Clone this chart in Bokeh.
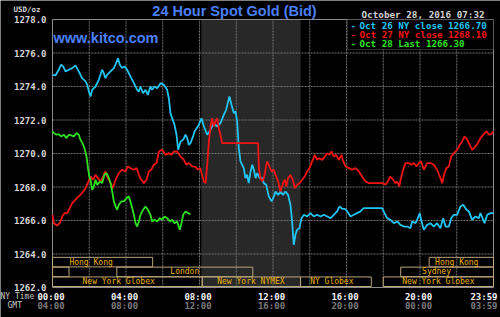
from bokeh.plotting import figure
from bokeh.models import Range1d, Label, BoxAnnotation, ColumnDataSource
from bokeh.core.properties import value
from bokeh.embed import file_html
from bokeh.resources import INLINE

# ---------------- data ----------------
cyan_hours = [0.00, 0.16, 0.34, 0.47, 0.58, 0.71, 0.89, 1.07, 1.25, 1.43, 1.61, 1.80, 1.89, 1.98, 2.07, 2.16,
              2.34, 2.52, 2.61, 2.70, 2.79, 2.88, 2.97, 3.16, 3.34, 3.46, 3.57, 3.66, 3.79, 3.92, 4.06, 4.24,
              4.43, 4.61, 4.70, 4.79, 4.93, 5.06, 5.19, 5.33, 5.42, 5.55, 5.70, 5.88, 6.06, 6.24, 6.33, 6.42,
              6.51, 6.64, 6.75, 6.84, 6.97, 7.11, 7.24, 7.33, 7.42, 7.51, 7.65, 7.73, 7.96, 8.11, 8.24, 8.42,
              8.60, 8.78, 8.96, 9.14, 9.32, 9.45, 9.56, 9.63, 9.74, 9.87, 9.96, 10.05, 10.14, 10.23, 10.41,
              10.50, 10.59, 10.68, 10.78, 10.87, 10.96, 11.05, 11.14, 11.27, 11.41, 11.50, 11.63, 11.77, 11.92,
              12.05, 12.14, 12.28, 12.41, 12.54, 12.68, 12.82, 12.95, 13.04, 13.13, 13.22, 13.31, 13.44, 13.55,
              13.68, 13.86, 14.04, 14.22, 14.40, 14.59, 14.77, 14.95, 15.13, 15.31, 15.49, 15.62, 15.76, 15.91,
              16.04, 16.22, 16.40, 16.58, 16.76, 16.94, 17.12, 17.31, 17.49, 17.67, 17.94, 18.07, 18.21, 18.39,
              18.58, 18.76, 18.94, 19.12, 19.30, 19.48, 19.57, 19.76, 19.88, 19.99, 20.06, 20.21, 20.39, 20.57,
              20.75, 20.93, 21.11, 21.26, 21.39, 21.57, 21.70, 21.84, 22.02, 22.20, 22.35, 22.53, 22.66, 22.84,
              23.02, 23.20, 23.29, 23.44, 23.51, 23.66, 23.84, 24.00]
cyan_values = [1274.70, 1274.66, 1275.00, 1275.30, 1275.20, 1274.90, 1275.00, 1275.10, 1275.26, 1274.90, 1274.50,
               1274.30, 1274.10, 1273.70, 1273.40, 1273.80, 1274.00, 1274.40, 1274.70, 1275.00, 1274.80, 1274.50,
               1274.70, 1274.90, 1275.10, 1275.40, 1275.69, 1275.30, 1275.10, 1275.20, 1275.00, 1274.60, 1274.20,
               1273.80, 1273.70, 1274.00, 1273.60, 1273.80, 1273.50, 1274.00, 1273.80, 1274.00, 1273.90, 1274.20,
               1274.10, 1273.80, 1273.30, 1272.41, 1272.11, 1271.71, 1271.12, 1270.22, 1270.72, 1270.82, 1271.12,
               1270.92, 1270.52, 1270.62, 1271.02, 1271.32, 1271.70, 1272.11, 1271.61, 1271.12, 1271.42, 1271.81,
               1271.61, 1271.81, 1272.31, 1272.61, 1273.11, 1273.40, 1272.91, 1272.41, 1272.51, 1271.91, 1270.32,
               1269.53, 1269.13, 1268.53, 1268.73, 1268.23, 1268.93, 1269.33, 1269.03, 1268.53, 1268.83, 1268.53,
               1268.53, 1268.23, 1268.13, 1267.44, 1267.14, 1267.44, 1267.73, 1267.53, 1267.73, 1267.53, 1267.73,
               1267.53, 1266.94, 1265.94, 1264.55, 1265.15, 1265.44, 1265.54, 1266.14, 1266.34, 1266.24, 1266.44,
               1266.24, 1266.34, 1266.24, 1266.34, 1266.24, 1266.14, 1266.34, 1266.54, 1266.84, 1266.70, 1266.70,
               1266.54, 1266.24, 1266.34, 1266.44, 1266.54, 1266.74, 1266.74, 1266.74, 1266.74, 1266.74, 1266.74,
               1266.44, 1266.14, 1266.04, 1265.84, 1265.94, 1265.74, 1265.64, 1265.64, 1265.54, 1265.94, 1265.84,
               1266.14, 1266.44, 1266.04, 1265.44, 1265.74, 1265.84, 1265.64, 1265.84, 1265.54, 1266.14, 1265.64,
               1265.64, 1266.14, 1266.34, 1266.34, 1266.84, 1266.94, 1266.64, 1266.54, 1266.04, 1266.24, 1266.14,
               1266.44, 1266.04, 1265.84, 1266.34, 1266.44, 1266.44]

red_hours = [0.00, 0.07, 0.25, 0.40, 0.53, 0.65, 0.80, 0.94, 1.07, 1.25, 1.43, 1.61, 1.80, 1.92, 2.07, 2.21, 2.34,
             2.47, 2.61, 2.76, 2.88, 3.01, 3.16, 3.28, 3.43, 3.61, 3.79, 3.97, 4.10, 4.24, 4.43, 4.57, 4.70, 4.83,
             4.97, 5.12, 5.24, 5.37, 5.52, 5.66, 5.79, 5.97, 6.15, 6.33, 6.46, 6.60, 6.78, 6.97, 7.15, 7.29, 7.42,
             7.60, 7.78, 7.91, 8.05, 8.11, 8.24, 8.33, 8.42, 8.51, 8.60, 8.69, 8.78, 8.87, 8.96, 9.05, 9.14, 9.23,
             11.19, 11.23, 11.32, 11.41, 11.50, 11.59, 11.68, 11.77, 11.92, 12.05, 12.17, 12.28, 12.41, 12.54,
             12.64, 12.72, 12.82, 12.95, 13.08, 13.19, 13.31, 13.44, 13.59, 13.73, 13.86, 13.99, 14.13, 14.28,
             14.40, 14.53, 14.68, 14.82, 14.95, 15.08, 15.18, 15.31, 15.44, 15.58, 15.73, 15.82, 15.95, 16.13,
             16.31, 16.49, 16.67, 16.85, 17.03, 17.21, 17.99, 18.12, 18.25, 18.39, 18.54, 18.67, 18.76, 18.87,
             18.97, 19.08, 19.21, 19.39, 19.52, 19.66, 19.81, 19.94, 20.06, 20.21, 20.39, 20.57, 20.75, 20.93,
             21.08, 21.21, 21.30, 21.44, 21.57, 21.70, 21.84, 22.02, 22.17, 22.29, 22.42, 22.57, 22.71, 22.84,
             23.02, 23.15, 23.29, 23.44, 23.62, 23.75, 23.87, 24.00]
red_values = [1266.34, 1265.84, 1265.70, 1265.84, 1266.24, 1266.44, 1266.44, 1266.74, 1267.04, 1267.24, 1267.44,
              1267.64, 1267.93, 1268.23, 1268.63, 1268.43, 1268.73, 1268.53, 1268.33, 1268.63, 1268.93, 1268.53,
              1268.23, 1267.93, 1268.43, 1268.83, 1269.03, 1268.93, 1269.23, 1269.13, 1269.03, 1269.13, 1268.73,
              1268.43, 1268.23, 1268.43, 1268.93, 1269.03, 1269.33, 1269.43, 1270.12, 1270.22, 1269.92, 1270.02,
              1269.92, 1270.12, 1270.12, 1269.82, 1269.62, 1269.33, 1269.43, 1269.23, 1269.20, 1269.03, 1269.13,
              1268.83, 1268.33, 1268.23, 1269.33, 1270.72, 1271.61, 1272.11, 1271.61, 1271.91, 1272.11, 1271.51,
              1271.12, 1270.62, 1270.62, 1269.13, 1268.53, 1268.33, 1268.53, 1269.03, 1269.53, 1269.33, 1268.93,
              1269.03, 1268.63, 1268.33, 1267.73, 1268.23, 1268.43, 1268.03, 1268.53, 1268.73, 1268.43, 1267.93,
              1268.13, 1268.23, 1268.43, 1268.63, 1268.93, 1269.13, 1269.53, 1269.92, 1269.62, 1269.72, 1269.62,
              1269.82, 1270.02, 1269.92, 1270.12, 1269.82, 1269.92, 1269.62, 1269.92, 1269.53, 1269.23, 1269.13,
              1269.03, 1269.13, 1268.93, 1268.63, 1268.33, 1268.23, 1268.23, 1268.13, 1268.33, 1268.63, 1268.43,
              1268.23, 1268.33, 1268.03, 1268.53, 1269.03, 1269.43, 1269.43, 1269.33, 1269.43, 1269.23, 1269.43,
              1269.53, 1269.03, 1269.43, 1269.43, 1269.33, 1269.03, 1268.63, 1268.23, 1268.73, 1269.13, 1269.23,
              1269.82, 1270.02, 1270.22, 1270.52, 1270.72, 1271.02, 1270.82, 1270.52, 1270.22, 1270.42, 1270.62,
              1270.92, 1271.12, 1271.32, 1271.12, 1271.16, 1271.32]

green_hours = [0.00, 0.07, 0.22, 0.34, 0.47, 0.62, 0.76, 0.89, 1.02, 1.16, 1.31, 1.43, 1.52, 1.63, 1.74, 1.85,
               1.92, 2.00, 2.07, 2.16, 2.25, 2.34, 2.43, 2.58, 2.70, 2.83, 2.94, 3.07, 3.16, 3.25, 3.34, 3.43,
               3.52, 3.61, 3.74, 3.88, 4.03, 4.15, 4.24, 4.34, 4.43, 4.52, 4.61, 4.70, 4.79, 4.93, 5.06, 5.19,
               5.33, 5.42, 5.55, 5.70, 5.84, 5.97, 6.10, 6.24, 6.39, 6.51, 6.64, 6.78, 6.93, 7.02, 7.11, 7.24,
               7.37, 7.51]
green_values = [1271.32, 1271.22, 1271.12, 1271.16, 1271.02, 1271.12, 1270.92, 1271.12, 1271.08, 1271.02, 1271.22,
                1271.12, 1270.82, 1270.62, 1270.32, 1269.82, 1269.23, 1268.63, 1268.43, 1267.83, 1268.03, 1268.43,
                1268.13, 1268.33, 1268.23, 1268.73, 1268.83, 1268.53, 1268.23, 1267.73, 1267.14, 1266.84, 1266.64,
                1266.94, 1267.14, 1267.14, 1267.34, 1267.44, 1267.14, 1266.74, 1266.34, 1265.84, 1265.64, 1265.94,
                1266.34, 1266.64, 1266.84, 1266.64, 1266.34, 1265.94, 1266.04, 1265.94, 1266.14, 1266.04, 1266.24,
                1266.14, 1265.94, 1266.04, 1265.84, 1265.94, 1265.44, 1265.84, 1266.34, 1266.54, 1266.44, 1266.38]

series_names = ["Oct 26 NY close 1266.70", "Oct 27 NY close 1268.10", "Oct 28 Last 1266.30"]
series_colors = ["#22c4f2", "#f21414", "#2ee022"]

y_ticks = [1262, 1264, 1266, 1268, 1270, 1272, 1274, 1276, 1278]
x_grid = [2, 4, 6, 8, 10, 12, 14, 16, 18, 20, 22]
ny_ticks = [0, 4, 8, 12, 16, 20, 24]
ny_labels = ["00:00", "04:00", "08:00", "12:00", "16:00", "20:00", "23:59"]
gmt_labels = ["04:00", "08:00", "12:00", "16:00", "20:00", "00:00", "03:59"]

session_names = ["Hong Kong", "", "London", "New York Globex", "New York NYMEX", "NY Globex",
                 "New York Globex", "Sydney", "Hong Kong"]
session_rows = [0, 1, 1, 2, 2, 2, 2, 1, 0]
session_start = [0.0, 0.0, 3.5, 0.0, 8.15, 13.5, 18.0, 18.95, 20.5]
session_end = [5.45, 0.9, 10.9, 8.15, 13.5, 17.35, 24.0, 24.0, 24.0]
session_label_hour = [2.1, 0.45, 7.2, 3.6, 10.8, 15.2, 21.0, 20.9, 22.0]
pit_start, pit_end = 8.1, 13.5

title_text = "24 Hour Spot Gold (Bid)"
site_text = "www.kitco.com"
date_text = "October 28, 2016 07:32"
unit_text = "USD/oz"

# ---------------- layout (pixels) ----------------
W, H = 500, 317
ML, MR, MT, MB = 52, 7, 19, 30
X0, X1 = 0, 24
Y0, Y1 = y_ticks[0], y_ticks[-1]
pxh = (W - ML - MR) / (X1 - X0)
pxv = (H - MT - MB) / (Y1 - Y0)

MONO = "DejaVu Sans Mono"
p = figure(width=W, height=H,
           x_range=Range1d(X0 - ML / pxh, X1 + MR / pxh),
           y_range=Range1d(Y0 - MB / pxv, Y1 + MT / pxv),
           output_backend="svg", toolbar_location=None,
           x_axis_location=None, y_axis_location=None,
           min_border=0, background_fill_color="black", border_fill_color="black",
           outline_line_color=None)
p.xgrid.visible = False
p.ygrid.visible = False

# pit-hours shading
p.quad(left=[pit_start], right=[pit_end], bottom=[Y0], top=[Y1], fill_color="#282828", line_color=None)

# grid lines
GRID = "#727272"
p.segment(x0=x_grid, x1=x_grid, y0=[Y0] * len(x_grid), y1=[Y1] * len(x_grid),
          line_color=GRID, line_dash="2 1", line_width=1)
inner_y = y_ticks[1:-1]
p.segment(x0=[X0] * len(inner_y), x1=[X1] * len(inner_y), y0=inner_y, y1=inner_y,
          line_color=GRID, line_dash="2 1", line_width=1)

# plot frame
p.quad(left=[X0], right=[X1], bottom=[Y0], top=[Y1], fill_alpha=0, line_color="#8c8c8c", line_width=1)

# y tick labels
p.text(x=[X0] * len(y_ticks), y=y_ticks, text=[f"{v:.1f}" for v in y_ticks],
       x_offset=-6, text_align="right", text_baseline="middle",
       text_font=value(MONO), text_font_style="bold", text_font_size="9px", text_color="#d6d6d6")

# x tick labels (NY time row and GMT row)
for labels, color, dy in ((ny_labels, "#f4f4f4", 9), (gmt_labels, "#7c7c7c", 18)):
    p.text(x=ny_ticks[:-1], y=[Y0] * (len(ny_ticks) - 1), text=labels[:-1],
           x_offset=-1.5, y_offset=dy, text_align="center", text_baseline="middle",
           text_font=value(MONO), text_font_style="bold", text_font_size="9px", text_color=color)
    p.text(x=ny_ticks[-1:], y=[Y0], text=labels[-1:],
           x_offset=4, y_offset=dy, text_align="right", text_baseline="middle",
           text_font=value(MONO), text_font_style="bold", text_font_size="9px", text_color=color)

# session boxes
row_h = 0.57
row_gap = 0.585
row_top0 = 1263.8
src = ColumnDataSource(dict(
    name=session_names,
    left=session_start, right=session_end,
    top=[row_top0 - r * row_gap for r in session_rows],
    bottom=[row_top0 - r * row_gap - row_h for r in session_rows],
    xc=session_label_hour,
    yc=[row_top0 - r * row_gap - row_h / 2 for r in session_rows],
))
p.quad(left="left", right="right", top="top", bottom="bottom", source=src,
       fill_alpha=0, line_color="#b8a57c", line_width=1)
p.text(x="xc", y="yc", text="name", source=src, text_align="center", text_baseline="middle",
       text_font=value(MONO), text_font_size="8px", text_color="#e8b20e")

# series lines
for xs, ys, c in ((cyan_hours, cyan_values, series_colors[0]),
                  (red_hours, red_values, series_colors[1]),
                  (green_hours, green_values, series_colors[2])):
    p.line(xs, ys, line_color=c, line_width=1.8)


def canvas_label(text, x, y, color, size, font=MONO, style="bold", align="left"):
    p.add_layout(Label(x=x, y=y, x_units="canvas", y_units="canvas", text=text,
                       text_color=color, text_font=font, text_font_style=style,
                       text_font_size=size, text_align=align, text_baseline="middle"))


# legend box with per-entry coloured text
p.add_layout(BoxAnnotation(left=347, right=W - MR, top=MT, bottom=49,
                           left_units="canvas", right_units="canvas",
                           top_units="canvas", bottom_units="canvas",
                           fill_color="black", fill_alpha=1, line_color="#8c8c8c", line_width=1))
for i, (name, c) in enumerate(zip(series_names, series_colors)):
    ycan = 25 + i * 9.2
    canvas_label("-", 350, ycan, c, "9px")
    canvas_label(name, 359, ycan, c, "9.2px")

# titles and other texts
canvas_label(title_text, 234, 10.5, "#4a7ff5", "14.5px", font="Liberation Sans", align="center")
canvas_label(site_text, 53, 37, "#4a7ff5", "14.5px", font="Liberation Sans")
canvas_label(date_text, 361, 13.5, "#d2d2d2", "9.3px")
canvas_label(unit_text, 13, 8.5, "#d6d6d6", "7.5px")
canvas_label("NY Time", 0, 296, "#c8c8c8", "8px", style="normal")
canvas_label("GMT", 7, 305, "#c8c8c8", "8px", style="normal")

open("out.html", "w").write(file_html(p, INLINE))
